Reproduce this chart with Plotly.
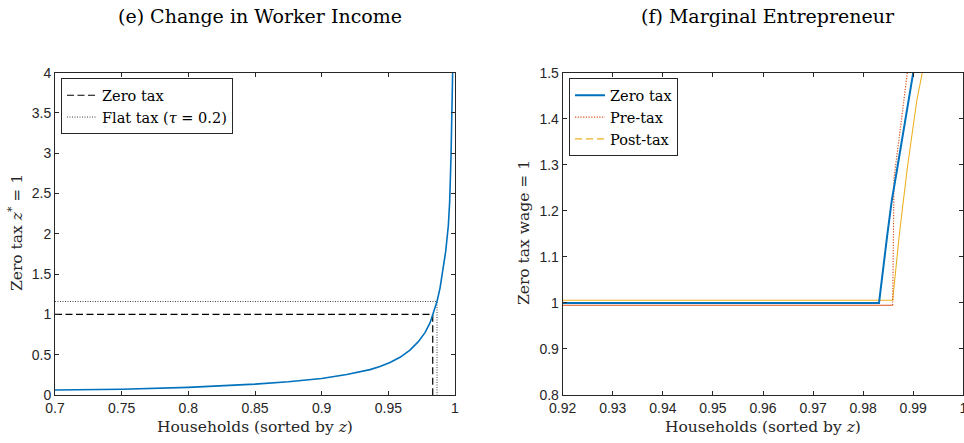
import plotly.graph_objects as go

W, H = 964, 443

# ---------------- data: panel (e) ----------------
hh_x = [0.70, 0.75, 0.80, 0.85, 0.875, 0.90, 0.9188, 0.93625, 0.94375, 0.95125, 0.95875,
        0.96625, 0.9725, 0.9775, 0.98125, 0.98325, 0.985, 0.9865, 0.9888, 0.9913, 0.993,
        0.995, 0.996, 0.997, 0.9975, 0.998, 0.99825]
zstar = [0.062, 0.072, 0.095, 0.135, 0.165, 0.205, 0.255, 0.315, 0.355, 0.403, 0.468,
         0.558, 0.662, 0.774, 0.895, 0.99, 1.075, 1.16, 1.33, 1.58, 1.78,
         2.10, 2.40, 2.95, 3.3, 3.75, 4.02]
zero_tax_ref_x = [0.70, 0.9833, 0.9833]
zero_tax_ref_y = [1.0, 1.0, 0.0]
flat_tax_ref_x = [0.70, 0.9865, 0.9865]
flat_tax_ref_y = [1.16, 1.16, 0.0]

# ---------------- data: panel (f) ----------------
zt_x = [0.92, 0.98317, 0.98482, 0.9857, 0.98682, 0.9879, 0.98896, 0.9900]
zt_y = [1.0, 1.0, 1.148, 1.221, 1.293, 1.365, 1.438, 1.5]
pre_x = [0.92, 0.9859, 0.98616, 0.9877, 0.98882]
pre_y = [0.9948, 0.9948, 1.271, 1.402, 1.5]
post_x = [0.92, 0.9859, 0.98722, 0.98882, 0.99069, 0.99181]
post_y = [1.0057, 1.0057, 1.148, 1.293, 1.438, 1.5]

xt_e = [0.7, 0.75, 0.8, 0.85, 0.9, 0.95, 1.0]
xt_e_lbl = ["0.7", "0.75", "0.8", "0.85", "0.9", "0.95", "1"]
yt_e = [0, 0.5, 1, 1.5, 2, 2.5, 3, 3.5, 4]
yt_e_lbl = ["0", "0.5", "1", "1.5", "2", "2.5", "3", "3.5", "4"]
xt_f = [0.92, 0.93, 0.94, 0.95, 0.96, 0.97, 0.98, 0.99, 1.0]
xt_f_lbl = ["0.92", "0.93", "0.94", "0.95", "0.96", "0.97", "0.98", "0.99", "1"]
yt_f = [0.8, 0.9, 1.0, 1.1, 1.2, 1.3, 1.4, 1.5]
yt_f_lbl = ["0.8", "0.9", "1", "1.1", "1.2", "1.3", "1.4", "1.5"]

BLUE = "#0072BD"
ORANGE = "#D95319"
YELLOW = "#EDB120"
AX = "#262626"
SERIF = "DejaVu Serif"
SANS = "Liberation Sans, Arial, sans-serif"

fig = go.Figure()

# panel (e)
fig.add_trace(go.Scatter(x=zero_tax_ref_x, y=zero_tax_ref_y, mode="lines", name="Zero tax",
                         line=dict(color="#000000", width=1.2, dash="7px,3.5px"),
                         xaxis="x", yaxis="y", legend="legend"))
fig.add_trace(go.Scatter(x=flat_tax_ref_x, y=flat_tax_ref_y, mode="lines",
                         name="Flat tax (<i>τ</i> = 0.2)",
                         line=dict(color="#444444", width=1, dash="1px,1.5px"),
                         xaxis="x", yaxis="y", legend="legend"))
fig.add_trace(go.Scatter(x=hh_x, y=zstar, mode="lines",
                         line=dict(color=BLUE, width=1.6, shape="linear"),
                         showlegend=False, xaxis="x", yaxis="y"))

# panel (f)
fig.add_trace(go.Scatter(x=post_x, y=post_y, mode="lines", line=dict(color=YELLOW, width=1.1),
                         showlegend=False, xaxis="x2", yaxis="y2"))
fig.add_trace(go.Scatter(x=pre_x[:2], y=pre_y[:2], mode="lines", line=dict(color=ORANGE, width=1.1),
                         showlegend=False, xaxis="x2", yaxis="y2"))
fig.add_trace(go.Scatter(x=pre_x[1:], y=pre_y[1:], mode="lines",
                         line=dict(color=ORANGE, width=1.2, dash="1.2px,1.5px"),
                         showlegend=False, xaxis="x2", yaxis="y2"))
fig.add_trace(go.Scatter(x=zt_x, y=zt_y, mode="lines", line=dict(color=BLUE, width=2),
                         showlegend=False, xaxis="x2", yaxis="y2"))
# legend entries for panel (f)
fig.add_trace(go.Scatter(x=[None], y=[None], mode="lines", name="Zero tax",
                         line=dict(color=BLUE, width=2), xaxis="x2", yaxis="y2", legend="legend2"))
fig.add_trace(go.Scatter(x=[None], y=[None], mode="lines", name="Pre-tax",
                         line=dict(color=ORANGE, width=1.2, dash="1.2px,1.5px"),
                         xaxis="x2", yaxis="y2", legend="legend2"))
fig.add_trace(go.Scatter(x=[None], y=[None], mode="lines", name="Post-tax",
                         line=dict(color=YELLOW, width=1.2, dash="7px,4px"),
                         xaxis="x2", yaxis="y2", legend="legend2"))


def px_x(p):
    return p / W


def px_y(p):
    return 1 - p / H


ytop, ybot = px_y(72.7), px_y(395)

axis_common = dict(showline=True, linecolor=AX, linewidth=1, mirror="allticks", ticks="inside",
                   ticklen=4, tickcolor=AX, tickwidth=1, showgrid=False, zeroline=False,
                   automargin=False,
                   tickfont=dict(family=SANS, size=14, color=AX), tickmode="array")

fig.update_layout(
    width=W, height=H, margin=dict(l=0, r=0, t=0, b=0, autoexpand=False),
    paper_bgcolor="white", plot_bgcolor="white",
    xaxis=dict(domain=[px_x(55), px_x(455)], range=[0.7, 1.0], tickvals=xt_e, ticktext=xt_e_lbl,
               anchor="y", **axis_common),
    yaxis=dict(domain=[ybot, ytop], range=[0, 4], tickvals=yt_e, ticktext=yt_e_lbl,
               anchor="x", **axis_common),
    xaxis2=dict(domain=[px_x(562.7), px_x(963.3)], range=[0.92, 1.0], tickvals=xt_f, ticktext=xt_f_lbl,
                anchor="y2", ticklabeloverflow="allow", **axis_common),
    yaxis2=dict(domain=[ybot, ytop], range=[0.8, 1.5], tickvals=yt_f, ticktext=yt_f_lbl,
                anchor="x2", **axis_common),
    legend=dict(x=px_x(61), y=px_y(78.3), xanchor="left", yanchor="top",
                bgcolor="white", bordercolor=AX, borderwidth=1,
                font=dict(family=SERIF, size=14.5, color="#000"), tracegroupgap=0, itemwidth=30),
    legend2=dict(x=px_x(569), y=px_y(78.3), xanchor="left", yanchor="top",
                 bgcolor="white", bordercolor=AX, borderwidth=1,
                 font=dict(family=SERIF, size=14.5, color="#000"), tracegroupgap=0, itemwidth=30),
    showlegend=True,
)

annots = [
    dict(text="(e) Change in Worker Income", x=px_x(260), y=px_y(16), size=19, color="#000"),
    dict(text="(f) Marginal Entrepreneur", x=px_x(768), y=px_y(16), size=19, color="#000"),
    dict(text="Households (sorted by <i>z</i>)", x=px_x(255), y=px_y(427), size=15.5),
    dict(text="Households (sorted by <i>z</i>)", x=px_x(763), y=px_y(427), size=15.5),
    dict(text="Zero tax <i>z</i><sup>*</sup> = 1", x=px_x(16), y=px_y(233), size=15.5, angle=-90),
    dict(text="Zero tax wage = 1", x=px_x(524), y=px_y(233), size=15.5, angle=-90),
]
for a in annots:
    fig.add_annotation(text=a["text"], x=a["x"], y=a["y"], xref="paper", yref="paper",
                       xanchor="center", yanchor="middle", showarrow=False,
                       textangle=a.get("angle", 0),
                       font=dict(family=SERIF, size=a["size"], color=a.get("color", AX)))

fig.write_html("out.html")
